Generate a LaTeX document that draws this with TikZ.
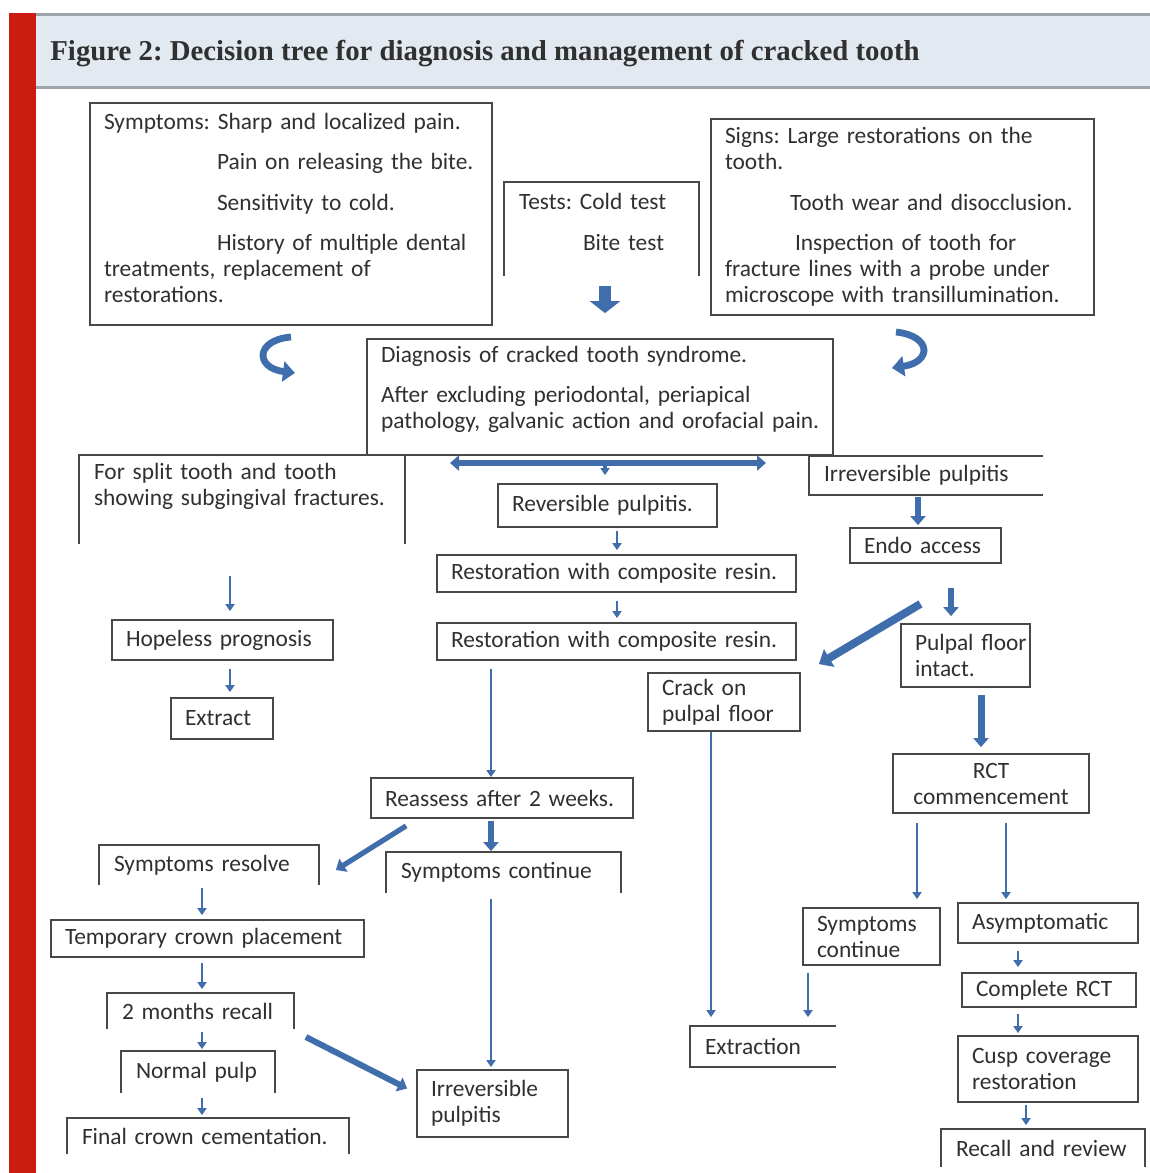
\documentclass[tikz,border=0pt]{standalone}
\usepackage{fontspec}
\setmainfont{Carlito}
\newfontfamily\titlefont{Liberation Serif}
\usepackage{tikz}
\usetikzlibrary{arrows, arrows.meta}
\usetikzlibrary{positioning}
\frenchspacing

\definecolor{framered}{RGB}{204,28,18}
\definecolor{bandblue}{RGB}{227,233,241}
\definecolor{rulegray}{RGB}{158,163,170}
\definecolor{boxgray}{RGB}{72,72,72}
\definecolor{textgray}{RGB}{48,48,48}
\definecolor{linkblue}{RGB}{64,110,172}

\tikzstyle{flow_box} = [
    rectangle,
    draw=boxgray,
    line width=0.9pt,
    text=textgray,
    font=\fontsize{11.7}{13}\selectfont,
    align=left,
    inner xsep=7pt, % text starts about 14px in from the border
    inner ysep=2pt
]
\tikzstyle{bare_box} = [
    flow_box,
    draw=none
]
\tikzstyle{box_edge} = [
    draw=boxgray,
    line width=0.9pt
]
\tikzstyle{flow_arrow} = [
    draw=linkblue,
    line width=1.3pt,
    -{Triangle[length=3.5pt, width=4.5pt]},
    shorten <=1.5pt,
    shorten >=2pt
]
\tikzstyle{heavy_arrow} = [
    flow_arrow,
    line width=2.6pt,
    -{Triangle[length=4.5pt, width=7.5pt]}
]
\tikzstyle{curl_arrow} = [
    draw=linkblue,
    line width=3.4pt,
    -{Triangle[length=6pt, width=10pt]}
]
\tikzstyle{block_arrow} = [
    draw=linkblue,
    line width=6pt,
    -{Triangle[length=6pt, width=15pt]}
]
\tikzstyle{title_text} = [
    font=\titlefont\bfseries\fontsize{14.4}{16}\selectfont,
    text=textgray,
    inner sep=0pt
]

% boxes whose scan lost one side
\newcommand{\openbottom}[1]{\draw[box_edge] (#1.south west) |- (#1.north) -| (#1.south east);}
\newcommand{\openright}[1]{\draw[box_edge] (#1.north east) -| (#1.south west) -- (#1.south east);}

\begin{document}
\begin{tikzpicture}[
    x=0.5pt,
    y=-0.5pt
]
\useasboundingbox (0,0) rectangle (1150,1173);

% frame and heading
\fill[white] (0,0) rectangle (1150,1173);
\fill[framered] (9,13) rectangle (36,1173);
\fill[bandblue] (36,14) rectangle (1150,87);
\draw[rulegray, line width=1.5pt] (36,14) -- (1150,14);
\draw[rulegray, line width=1.5pt] (36,87) -- (1150,87);
\node[title_text, anchor=base west] (title) at (50,60) {Figure 2: Decision tree for diagnosis and management of cracked tooth};

% top row
\node[flow_box, text width=187pt, minimum height=111pt] (symptoms) at (291,214) {Symptoms: Sharp and localized pain.\\[7.25pt]
    \hspace*{56.5pt}Pain on releasing the bite.\\[7.25pt]
    \hspace*{56.5pt}Sensitivity to cold.\\[7.25pt]
    \hspace*{56.5pt}History of multiple dental\\
    treatments, replacement of\\
    restorations.\\[-7pt]\mbox{}};
\node[bare_box, text width=82.5pt, minimum height=46pt] (tests) at (601.5,229) {Tests: Cold test\\[7.5pt]
    \hspace*{32pt}Bite test\\[-5.5pt]\mbox{}};
\node[flow_box, text width=177.5pt, minimum height=98pt] (signs) at (902.5,217) {Signs: Large restorations on the\\
    tooth.\\[7.25pt]
    \hspace*{32.5pt}Tooth wear and disocclusion.\\[7.25pt]
    \hspace*{35pt}Inspection of tooth for\\
    fracture lines with a probe under\\
    microscope with transillumination.};
\node[flow_box, text width=219pt, minimum height=58pt] (diagnosis) at (600,397) {Diagnosis of cracked tooth syndrome.\\[7pt]
    After excluding periodontal, periapical\\
    \mbox{pathology, galvanic action and orofacial pain.}\\[-3pt]\mbox{}};

% left branch
\node[bare_box, text width=148pt, minimum height=43.5pt] (split) at (242,499.5) {For split tooth and tooth\\
    showing subgingival fractures.\\[2.4pt]\mbox{}};
\node[flow_box, text width=96.5pt, minimum height=20pt] (hopeless) at (222.5,640) {Hopeless prognosis};
\node[flow_box, text width=37pt, minimum height=20.5pt] (extract) at (222,718.5) {Extract};

% middle branch
\node[flow_box, text width=95.5pt, minimum height=21.5pt] (reversible) at (607.5,505.5) {Reversible pulpitis.};
\node[flow_box, text width=165.5pt, minimum height=18.5pt] (resin_one) at (616.5,573.5) {Restoration with composite resin.};
\node[flow_box, text width=165.5pt, minimum height=18.5pt] (resin_two) at (616.5,641.5) {Restoration with composite resin.};
\node[flow_box, text width=117pt, minimum height=20pt] (reassess) at (502,798) {Reassess after 2 weeks.};
\node[bare_box, text width=95pt, minimum height=19pt] (sx_resolve) at (209,865) {Symptoms resolve};
\node[bare_box, text width=102.5pt, minimum height=19.5pt] (sx_continue) at (503.5,872.5) {Symptoms continue};
\node[flow_box, text width=142.5pt, minimum height=18.5pt] (temp_crown) at (207.5,938.5) {Temporary crown placement};
\node[bare_box, text width=78.5pt, minimum height=17pt] (recall_two) at (200.5,1011) {2 months recall};
\node[bare_box, text width=62pt, minimum height=20pt] (normal_pulp) at (198,1072) {Normal~pulp};
\node[bare_box, text width=126pt, minimum height=17pt] (final_crown) at (208,1136) {Final crown cementation.};
\node[flow_box, text width=61.5pt, minimum height=33.5pt] (irrev_low) at (492.5,1103.5) {Irreversible\\pulpitis};

% right branch
\node[bare_box, text width=102pt, minimum height=18.5pt] (irrev_up) at (926,475.5) {Irreversible pulpitis};
\node[flow_box, text width=61.5pt, minimum height=17.5pt] (endo) at (925.5,545.5) {Endo access};
\node[flow_box, text width=50.5pt, minimum height=31.5pt] (pulpal) at (965.5,655.5) {Pulpal~floor\\intact.};
\node[flow_box, text width=62pt, minimum height=29pt] (crack) at (724,702) {Crack on\\pulpal floor};
\node[flow_box, text width=84pt, minimum height=29.5pt, align=center] (rct) at (991,783.5) {RCT\\commencement};
\node[flow_box, text width=54.5pt, minimum height=28.5pt] (sx_cont_right) at (871.5,936.5) {Symptoms\\continue};
\node[flow_box, text width=76pt, minimum height=20pt] (asymptomatic) at (1048,923) {Asymptomatic};
\node[flow_box, text width=73pt, minimum height=17pt] (complete_rct) at (1049,990) {Complete RCT};
\node[flow_box, text width=76pt, minimum height=33pt] (cusp) at (1048,1069) {Cusp coverage\\restoration};
\node[bare_box, text width=87pt, minimum height=18pt] (recall_review) at (1043,1148) {Recall~and~review};
\node[bare_box, text width=58pt, minimum height=19.5pt] (extraction) at (763,1046.5) {Extraction};

\openbottom{tests}
\openbottom{split}
\openbottom{sx_resolve}
\openbottom{sx_continue}
\openbottom{recall_two}
\openbottom{normal_pulp}
\openbottom{final_crown}
\openbottom{recall_review}
\openright{irrev_up}
\openright{extraction}

% arrow lanes and free ends
\coordinate (lane_tests) at (605,0);
\coordinate (lane_split) at (230,0);
\coordinate (lane_resin) at (617,0);
\coordinate (lane_reassess) at (491,0);
\coordinate (lane_left) at (202,0);
\coordinate (lane_endo) at (918,0);
\coordinate (lane_pulpal) at (951,0);
\coordinate (lane_rct) at (981,0);
\coordinate (lane_crack) at (711,0);
\coordinate (lane_continue) at (917,0);
\coordinate (lane_asym) at (1006,0);
\coordinate (lane_extract) at (808,0);
\coordinate (lane_right) at (1018,0);
\coordinate (lane_review) at (1026,0);
\coordinate (branch_left) at (450,463);
\coordinate (branch_mid) at (605,463);
\coordinate (branch_right) at (766,463);
\coordinate (curl_left_top) at (291,337);
\coordinate (curl_left_tip) at (295,373);
\coordinate (curl_right_top) at (896,332);
\coordinate (curl_right_tip) at (892,368);

% into the diagnosis
\draw[block_arrow, shorten <=5pt, shorten >=12.5pt] (tests.south -| lane_tests) -- (diagnosis.north -| lane_tests);
\draw[curl_arrow] (curl_left_top) .. controls (255,340) and (255,368) .. (curl_left_tip);
\draw[curl_arrow] (curl_right_top) .. controls (932,336) and (932,362) .. (curl_right_tip);
\draw[heavy_arrow, {Triangle[length=4.5pt, width=7.5pt]}-{Triangle[length=4.5pt, width=7.5pt]}, shorten <=0pt, shorten >=0pt] (branch_left) -- (branch_right);
\draw[flow_arrow, line width=2pt, shorten <=0pt, shorten >=4pt] (branch_mid) -- (reversible.north -| branch_mid);

% left and middle
\draw[flow_arrow, shorten <=16pt, shorten >=4pt] (split.south -| lane_split) -- (hopeless.north -| lane_split);
\draw[flow_arrow, shorten <=4pt, shorten >=2.5pt] (hopeless.south -| lane_split) -- (extract.north -| lane_split);
\draw[flow_arrow] (reversible.south -| lane_resin) -- (resin_one.north -| lane_resin);
\draw[flow_arrow, shorten <=4pt] (resin_one.south -| lane_resin) -- (resin_two.north -| lane_resin);
\draw[flow_arrow, shorten <=4pt, shorten >=0pt] (resin_two.south -| lane_reassess) -- (reassess.north -| lane_reassess);
\draw[heavy_arrow, shorten <=1pt, shorten >=0.5pt] (reassess.south -| lane_reassess) -- (sx_continue.north -| lane_reassess);
\draw[heavy_arrow, shorten <=0pt, shorten >=0pt] ([shift={(36,7)}]reassess.south west) -- ([shift={(17,5)}]sx_resolve.east);
\draw[flow_arrow, shorten <=3pt, shorten >=1pt] (sx_continue.south -| lane_reassess) -- (irrev_low.north -| lane_reassess);
\draw[flow_arrow] (sx_resolve.south -| lane_left) -- (temp_crown.north -| lane_left);
\draw[flow_arrow, shorten <=2.5pt] (temp_crown.south -| lane_left) -- (recall_two.north -| lane_left);
\draw[flow_arrow, shorten >=1pt] (recall_two.south -| lane_left) -- (normal_pulp.north -| lane_left);
\draw[flow_arrow, shorten <=2.5pt, shorten >=1.5pt] (normal_pulp.south -| lane_left) -- (final_crown.north -| lane_left);
\draw[heavy_arrow, line width=3pt, shorten <=0pt, shorten >=0pt] ([shift={(12,26)}]recall_two.east) -- ([shift={(-9,-15)}]irrev_low.west);

% right
\draw[heavy_arrow, shorten <=1pt, shorten >=1pt] (irrev_up.south -| lane_endo) -- (endo.north -| lane_endo);
\draw[heavy_arrow, shorten <=12pt, shorten >=3.5pt] (endo.south -| lane_pulpal) -- (pulpal.north -| lane_pulpal);
\draw[heavy_arrow, line width=4pt, -{Triangle[length=6pt, width=10pt]}, shorten <=0pt, shorten >=0pt] ([shift={(-5,40)}]endo.south) -- ([shift={(18,-8)}]crack.north east);
\draw[heavy_arrow, line width=3.5pt, shorten <=3.5pt, shorten >=3pt] (pulpal.south -| lane_rct) -- (rct.north -| lane_rct);
\draw[flow_arrow, shorten <=0pt, shorten >=4.5pt] (crack.south -| lane_crack) -- (extraction.north -| lane_crack);
\draw[flow_arrow, shorten <=4.5pt, shorten >=4pt] (rct.south -| lane_continue) -- (sx_cont_right.north -| lane_continue);
\draw[flow_arrow, shorten <=4.5pt, shorten >=1.5pt] (rct.south -| lane_asym) -- (asymptomatic.north -| lane_asym);
\draw[flow_arrow, shorten <=3.5pt, shorten >=4.5pt] (sx_cont_right.south -| lane_extract) -- (extraction.north -| lane_extract);
\draw[flow_arrow, shorten <=3.5pt, shorten >=2.5pt] (asymptomatic.south -| lane_right) -- (complete_rct.north -| lane_right);
\draw[flow_arrow, shorten <=3pt, shorten >=1pt] (complete_rct.south -| lane_right) -- (cusp.north -| lane_right);
\draw[flow_arrow, shorten <=1pt, shorten >=2pt] (cusp.south -| lane_review) -- (recall_review.north -| lane_review);
\end{tikzpicture}
\end{document}
